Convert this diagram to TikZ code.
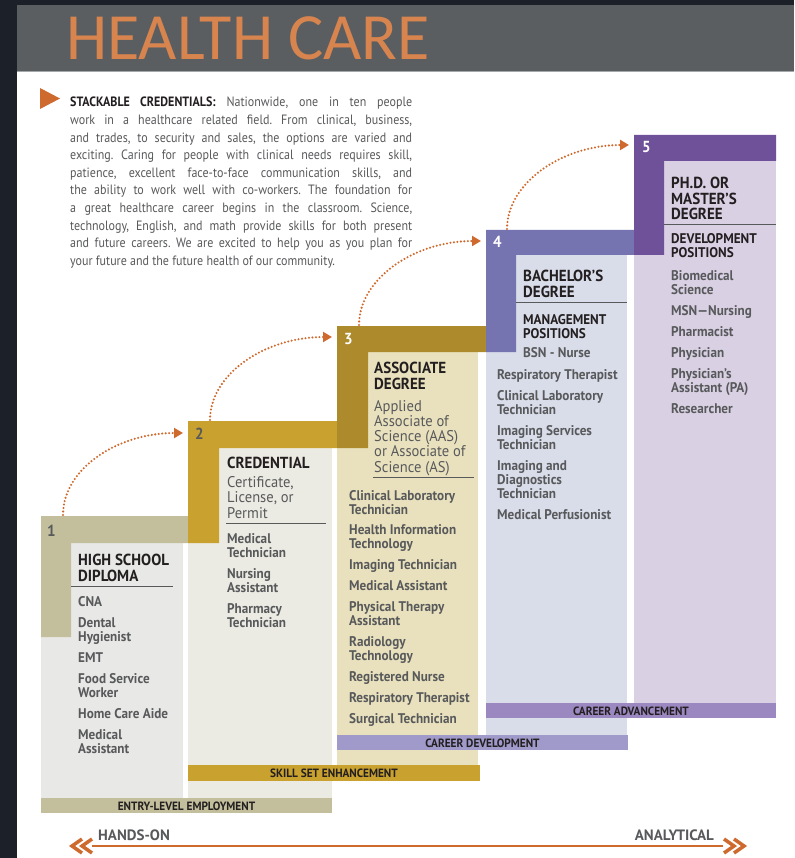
\documentclass[tikz,border=0pt]{standalone}
\usepackage{fontspec}
\setmainfont[FakeStretch=0.94]{PT Sans}
\newfontfamily\introfont[FakeStretch=0.89]{PT Sans}
\newfontfamily\widefont{PT Sans}
\newfontfamily\titlefont{Carlito}
\usetikzlibrary{arrows.meta}
\definecolor{framecol}{HTML}{1C2029}
\definecolor{headcol}{HTML}{5B5E61}
\definecolor{titlecol}{HTML}{D7844F}
\definecolor{orangecol}{HTML}{CF6A2E}
\definecolor{inkcol}{HTML}{231F20}
\definecolor{textcol}{HTML}{58595B}
\definecolor{bandA}{HTML}{C3BF9D}
\definecolor{bandB}{HTML}{C8A12E}
\definecolor{bandC}{HTML}{AD8B2D}
\definecolor{bandD}{HTML}{7673B1}
\definecolor{bandE}{HTML}{6E5199}
\definecolor{panelA}{HTML}{E8E8E6}
\definecolor{panelB}{HTML}{ECEBE3}
\definecolor{panelC}{HTML}{E9E1BD}
\definecolor{panelD}{HTML}{D9DCE9}
\definecolor{panelE}{HTML}{D9D0E4}
\definecolor{barC}{HTML}{9F9AC9}
\definecolor{barD}{HTML}{9B88C0}
\tikzset{
  intro/.style={anchor=north west, inner sep=0pt, text width=342pt, align=justify, text=textcol, font=\introfont\frenchspacing\fontsize{13.5}{17.6}\selectfont},
  stepnum/.style={anchor=base west, inner sep=0pt, font=\bfseries\fontsize{16}{16}\selectfont},
  heading/.style={anchor=base west, inner sep=0pt, align=left, text=inkcol, font=\bfseries\fontsize{16}{15.5}\selectfont},
  subhead/.style={anchor=base west, inner sep=0pt, align=left, text=inkcol, font=\bfseries\fontsize{14}{14}\selectfont},
  detail/.style={anchor=base west, inner sep=0pt, align=left, text=textcol, font=\fontsize{15.5}{15.2}\selectfont},
  jobs/.style={anchor=base west, inner sep=0pt, align=left, text=textcol, font=\bfseries\fontsize{14}{14}\selectfont},
  barlabel/.style={inner sep=0pt, text=inkcol, font=\bfseries\fontsize{12}{12}\selectfont},
  divider/.style={draw=textcol, line width=0.8pt},
  dotarrow/.style={orangecol, line width=2.3pt, line cap=round, dash pattern=on 0pt off 3.5pt, -{Triangle[length=9pt,width=10pt]}},
  axislabel/.style={inner sep=0pt, text=textcol, font=\widefont\bfseries\fontsize{15}{15}\selectfont},
  chevron/.style={orangecol, line width=3.5pt},
}
\begin{document}
\begin{tikzpicture}[x=1pt,y=-1pt]
\useasboundingbox (0,0) rectangle (794,858);
\fill[framecol] (0,0) rectangle (794,858);
\fill[white] (17,5) rectangle (794,858);
\fill[headcol] (17,5) rectangle (794,72);
\draw[headcol!55!white, line width=1pt] (17,71.5) -- (794,71.5);
\node[anchor=base west, inner sep=0pt, text=titlecol, font=\titlefont\fontsize{66}{66}\selectfont] (title) at (66,60) {HEALTH CARE};

%intro text
\fill[orangecol] (40,88) -- (60,98.5) -- (40,109) -- cycle;
\node[intro] (intro) at (70,97) {{\color{inkcol}\bfseries STACKABLE CREDENTIALS:} Nationwide, one in ten people\linebreak
work in a healthcare related field. From clinical, business,\linebreak
and trades, to security and sales, the options are varied and\linebreak
exciting. Caring for people with clinical needs requires skill,\linebreak
patience, excellent face-to-face communication skills, and\linebreak
the ability to work well with co-workers. The foundation for\linebreak
a great healthcare career begins in the classroom. Science,\linebreak
technology, English, and math provide skills for both present\linebreak
and future careers. We are excited to help you as you plan for\linebreak
your future and the future health of our community.};

%panels
\fill[panelA] (41,516) rectangle (183,798);
\fill[panelB] (188,421) rectangle (332,798);
\fill[panelC] (337,326) rectangle (478,765);
\fill[panelD] (486,230) rectangle (627,735);
\fill[panelE] (634,135) rectangle (776,703);

%steps
\fill[bandA] (41,516) -- (188,516) -- (188,543) -- (71,543) -- (71,637) -- (41,637) -- cycle;
\fill[bandB] (188,421) -- (337,421) -- (337,448) -- (219,448) -- (219,543) -- (188,543) -- cycle;
\fill[bandC] (337,326) -- (486,326) -- (486,352) -- (368,352) -- (368,448) -- (337,448) -- cycle;
\fill[bandD] (486,230) -- (634,230) -- (634,255) -- (516,255) -- (516,352) -- (486,352) -- cycle;
\fill[bandE] (634,135) -- (776,135) -- (776,161) -- (664,161) -- (664,255) -- (634,255) -- cycle;
\node[stepnum, text=textcol] (num1) at (47,536) {1};
\node[stepnum, text=textcol] (num2) at (195,439) {2};
\node[stepnum, text=white] (num3) at (344,344) {3};
\node[stepnum, text=white] (num4) at (493,248) {4};
\node[stepnum, text=white] (num5) at (642,153) {5};

%bars
\fill[bandA] (41,798) rectangle (332,813);
\fill[bandB] (188,765) rectangle (480,781);
\fill[barC] (337,735) rectangle (628,750);
\fill[barD] (486,703) rectangle (776,718);
\node[barlabel] (bar1) at (186.5,806) {ENTRY-LEVEL EMPLOYMENT};
\node[barlabel] (bar2) at (334,773.5) {SKILL SET ENHANCEMENT};
\node[barlabel] (bar3) at (482.5,743) {CAREER DEVELOPMENT};
\node[barlabel] (bar4) at (631,711) {CAREER ADVANCEMENT};

%step 1 (nodes sit on the baseline of their last line)
\node[heading] (head1) at (78,581) {HIGH SCHOOL\\DIPLOMA};
\draw[divider] (71,586) -- (173,586);
\node[jobs] (jobs1) at (78,753) {CNA\\[7pt]Dental\\Hygienist\\[7pt]EMT\\[7pt]Food Service\\Worker\\[7pt]Home Care Aide\\[7pt]Medical\\Assistant};

%step 2
\node[heading] (head2) at (227,468) {CREDENTIAL};
\node[detail] (info2) at (227,518) {Certificate,\\License, or\\Permit};
\draw[divider] (226,523) -- (326,523);
\node[jobs] (jobs2) at (227,627) {Medical\\Technician\\[7pt]Nursing\\Assistant\\[7pt]Pharmacy\\Technician};

%step 3
\node[heading] (head3) at (374,389) {ASSOCIATE\\DEGREE};
\node[detail] (info3) at (374,472) {Applied\\Associate of\\Science (AAS)\\or Associate of\\Science (AS)};
\draw[divider] (373,477) -- (474,477);
\node[jobs] (jobs3) at (349,723) {Clinical Laboratory\\Technician\\[6.5pt]Health Information\\Technology\\[6.5pt]Imaging Technician\\[7pt]Medical Assistant\\[7pt]Physical Therapy\\Assistant\\[7pt]Radiology\\Technology\\[7pt]Registered Nurse\\[7pt]Respiratory Therapist\\[7pt]Surgical Technician};

%step 4
\node[heading] (head4) at (523,297) {BACHELOR’S\\DEGREE};
\draw[divider] (516,302) -- (627,302);
\node[subhead] (pos4) at (523,338) {MANAGEMENT\\POSITIONS};
\node[jobs] (bsn) at (523,357) {BSN - Nurse};
\node[jobs] (jobs4) at (497,519) {Respiratory Therapist\\[7pt]Clinical Laboratory\\Technician\\[7pt]Imaging Services\\Technician\\[7pt]Imaging and\\Diagnostics\\Technician\\[7pt]Medical Perfusionist};

%step 5
\node[heading] (head5) at (671,220) {PH.D. OR\\MASTER’S\\DEGREE};
\draw[divider] (664,224) -- (776,224);
\node[subhead] (pos5) at (671,258) {DEVELOPMENT\\POSITIONS};
\node[jobs] (jobs5) at (671,413) {Biomedical\\Science\\[7pt]MSN—Nursing\\[7pt]Pharmacist\\[7pt]Physician\\[7pt]Physician’s\\Assistant (PA)\\[7pt]Researcher};

%arrows between steps
\coordinate (up1) at (63,515); \coordinate (to2) at (183,433);
\coordinate (up2) at (210,420); \coordinate (to3) at (332,337);
\coordinate (up3) at (359,325); \coordinate (to4) at (481,241);
\coordinate (up4) at (507,229); \coordinate (to5) at (629,145);
\draw[dotarrow] (up1) .. controls (63,469) and (117,433) .. (to2);
\draw[dotarrow] (up2) .. controls (210,374) and (265,337) .. (to3);
\draw[dotarrow] (up3) .. controls (359,279) and (414,241) .. (to4);
\draw[dotarrow] (up4) .. controls (507,183) and (562,145) .. (to5);

%hands-on / analytical
\coordinate (leftend) at (92,846); \coordinate (rightend) at (723,846);
\draw[orangecol, line width=2.5pt] (leftend) -- (rightend);
\draw[chevron] (82,839) -- (72,846) -- (82,853);
\draw[chevron] (92,839) -- (82,846) -- (92,853);
\draw[chevron] (724,839) -- (734,846) -- (724,853);
\draw[chevron] (734,839) -- (744,846) -- (734,853);
\node[axislabel, anchor=base west] (handson) at (98,840) {HANDS-ON};
\node[axislabel, anchor=base east] (analytical) at (714,840) {ANALYTICAL};
\end{tikzpicture}
\end{document}
